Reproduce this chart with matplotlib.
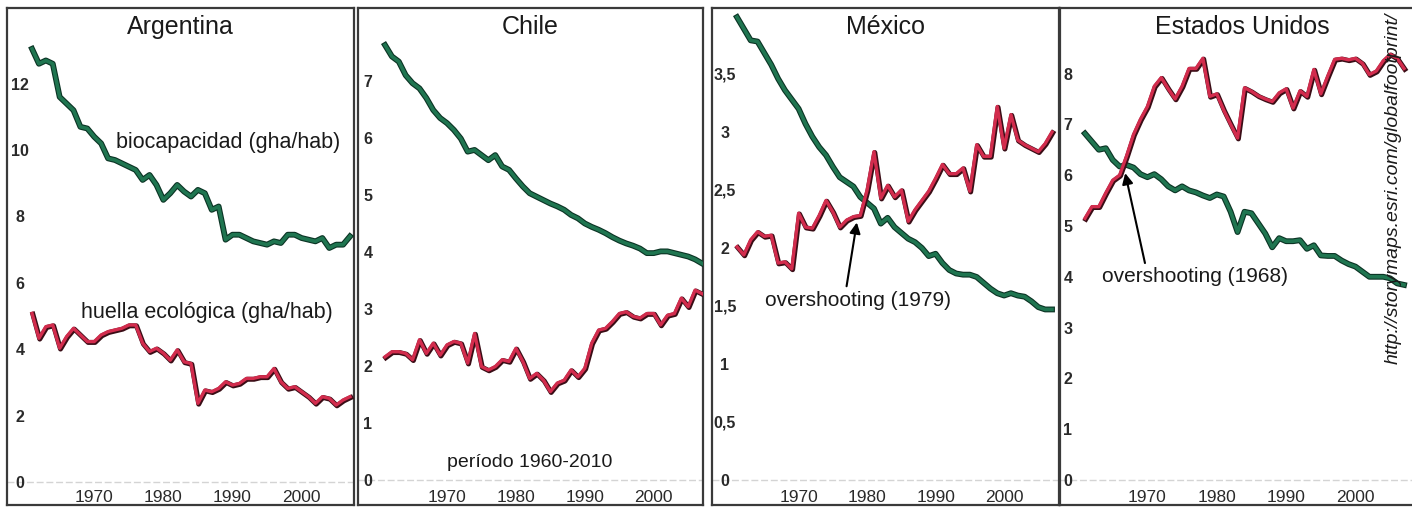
import matplotlib
matplotlib.use("Agg")
import matplotlib.pyplot as plt
import matplotlib.patheffects as pe

plt.rcParams['font.family'] = ['Liberation Sans', 'DejaVu Sans']

years = list(range(1961, 2008))

arg_bio = [13.05, 12.6, 12.7, 12.6, 11.6, 11.4, 11.2, 10.7, 10.65, 10.4, 10.2, 9.75, 9.7, 9.6, 9.5,
           9.4, 9.1, 9.25, 8.95, 8.5, 8.7, 8.95, 8.75, 8.6, 8.8, 8.7, 8.2, 8.3, 7.3, 7.45, 7.45,
           7.35, 7.25, 7.2, 7.15, 7.25, 7.2, 7.45, 7.45, 7.35, 7.3, 7.25, 7.35, 7.05, 7.15, 7.15, 7.4]
arg_foot = [5.08, 4.33, 4.68, 4.73, 4.03, 4.38, 4.63, 4.43, 4.23, 4.23, 4.43, 4.53, 4.58, 4.63, 4.73,
            4.73, 4.18, 3.93, 4.03, 3.88, 3.67, 3.98, 3.62, 3.57, 2.37, 2.77, 2.72, 2.82, 3.02, 2.92,
            2.97, 3.12, 3.12, 3.17, 3.17, 3.42, 3.02, 2.82, 2.87, 2.72, 2.57, 2.37, 2.57, 2.52, 2.32,
            2.47, 2.57]
chl_bio = [7.63, 7.43, 7.34, 7.1, 6.96, 6.87, 6.7, 6.49, 6.35, 6.26, 6.14, 5.99, 5.76, 5.79, 5.70,
           5.61, 5.70, 5.50, 5.44, 5.29, 5.15, 5.03, 4.97, 4.91, 4.85, 4.80, 4.74, 4.65, 4.59, 4.50,
           4.44, 4.39, 4.33, 4.26, 4.20, 4.15, 4.11, 4.06, 3.98, 3.98, 4.01, 4.01, 3.98, 3.95, 3.92,
           3.87, 3.80]
chl_foot = [2.16, 2.25, 2.25, 2.22, 2.11, 2.46, 2.22, 2.40, 2.19, 2.37, 2.43, 2.40, 2.05, 2.57, 1.99,
            1.93, 1.99, 2.11, 2.08, 2.31, 2.08, 1.78, 1.87, 1.75, 1.55, 1.70, 1.75, 1.93, 1.81, 1.96,
            2.40, 2.63, 2.66, 2.78, 2.92, 2.95, 2.87, 2.84, 2.92, 2.92, 2.72, 2.89, 2.92, 3.19, 3.04,
            3.33, 3.27]
mex_bio = [3.99, 3.89, 3.79, 3.78, 3.68, 3.58, 3.46, 3.36, 3.28, 3.20, 3.07, 2.96, 2.87, 2.80, 2.70,
           2.61, 2.57, 2.53, 2.44, 2.39, 2.34, 2.21, 2.26, 2.18, 2.13, 2.08, 2.05, 2.00, 1.93, 1.95,
           1.87, 1.81, 1.78, 1.77, 1.77, 1.75, 1.70, 1.65, 1.61, 1.59, 1.61, 1.59, 1.58, 1.54, 1.49,
           1.47, 1.47]
mex_foot = [2.01, 1.94, 2.07, 2.14, 2.10, 2.11, 1.87, 1.88, 1.82, 2.30, 2.18, 2.17, 2.28, 2.41, 2.31,
            2.18, 2.24, 2.27, 2.28, 2.50, 2.83, 2.43, 2.54, 2.44, 2.50, 2.23, 2.33, 2.41, 2.49, 2.60,
            2.72, 2.64, 2.64, 2.69, 2.49, 2.89, 2.79, 2.79, 3.22, 2.86, 3.15, 2.93, 2.89, 2.86, 2.83,
            2.90, 3.00]
usa_bio = [6.82, 6.66, 6.50, 6.53, 6.30, 6.17, 6.20, 6.15, 6.02, 5.96, 6.02, 5.92, 5.78, 5.70, 5.78,
           5.70, 5.66, 5.60, 5.55, 5.62, 5.58, 5.28, 4.88, 5.28, 5.25, 5.05, 4.85, 4.58, 4.76, 4.70,
           4.70, 4.72, 4.55, 4.62, 4.42, 4.41, 4.41, 4.32, 4.25, 4.20, 4.10, 4.00, 4.00, 4.00, 3.97,
           3.87, 3.84]
usa_foot = [5.15, 5.38, 5.38, 5.65, 5.90, 6.0, 6.38, 6.80, 7.10, 7.35, 7.75, 7.92, 7.7, 7.5, 7.75,
            8.1, 8.1, 8.3, 7.55, 7.6, 7.28, 7.0, 6.73, 7.72, 7.65, 7.56, 7.5, 7.45, 7.62, 7.7, 7.32,
            7.66, 7.55, 8.08, 7.6, 7.95, 8.28, 8.30, 8.27, 8.30, 8.2, 7.98, 8.05, 8.25, 8.38, 8.3, 8.1]

titles = ["Argentina", "Chile", "México", "Estados Unidos"]
x_ticks = [1970, 1980, 1990, 2000]
y_ticks = [[0, 2, 4, 6, 8, 10, 12],
           [0, 1, 2, 3, 4, 5, 6, 7],
           [0, 0.5, 1, 1.5, 2, 2.5, 3, 3.5],
           [0, 1, 2, 3, 4, 5, 6, 7, 8]]
y_labels = [["0", "2", "4", "6", "8", "10", "12"],
            ["0", "1", "2", "3", "4", "5", "6", "7"],
            ["0", "0,5", "1", "1,5", "2", "2,5", "3", "3,5"],
            ["0", "1", "2", "3", "4", "5", "6", "7", "8"]]
bio_series = [arg_bio, chl_bio, mex_bio, usa_bio]
foot_series = [arg_foot, chl_foot, mex_foot, usa_foot]

W, H = 1412, 507
fig = plt.figure(figsize=(W / 100, H / 100), dpi=100)
fig.patch.set_facecolor('white')

boxes = [(7, 354), (358, 703), (712, 1059), (1060, 1424)]
top_px, bot_px = 8, 505
xlims = [(1957.38, 2007.58), (1957.08, 2007.15), (1957.35, 2008.02), (1957.4, 2009.88)]
ylims = [(-0.693, 14.28), (-0.439, 8.28), (-0.216, 4.069), (-0.492, 9.29)]
ylab_off = [13, 10, 13, 8]

GREEN = '#1f7550'
GREEN_EDGE = '#0b3324'
RED = '#d22c4d'
RED_EDGE = '#3a0d16'

axes = []
for i in range(4):
    l, r = boxes[i]
    ax = fig.add_axes([l / W, (H - bot_px) / H, (r - l) / W, (bot_px - top_px) / H])
    axes.append(ax)
    ax.set_xlim(*xlims[i])
    ax.set_ylim(*ylims[i])
    for s in ax.spines.values():
        s.set_color('#3a3a3a')
        s.set_linewidth(1.6)
    ax.axhline(0, color='#d4d4d4', lw=1.0, ls=(0, (5, 2)), zorder=1)
    ax.plot(years, bio_series[i], color=GREEN, lw=2.6, solid_joinstyle='round', zorder=3,
            path_effects=[pe.Stroke(linewidth=4.2, foreground=GREEN_EDGE), pe.Normal()])
    ax.plot(years, foot_series[i], color=RED, lw=2.4, solid_joinstyle='round', zorder=3,
            path_effects=[pe.Stroke(linewidth=3.6, foreground=RED_EDGE, offset=(0.6, -0.6)),
                          pe.Normal()])
    ax.set_yticks(y_ticks[i], y_labels[i])
    ax.tick_params(axis='y', length=0, direction='in', pad=-ylab_off[i] / 1.389,
                   labelsize=11.5, labelcolor='#2a2a2a')
    for lbl in ax.get_yticklabels():
        lbl.set_horizontalalignment('center')
        lbl.set_fontweight('bold')
    ax.set_xticks(x_ticks, [str(v) for v in x_ticks])
    ax.tick_params(axis='x', length=0, direction='in', pad=-8 / 1.389,
                   labelsize=12.5, labelcolor='#2a2a2a')
    for lbl in ax.get_xticklabels():
        lbl.set_verticalalignment('center')
        lbl.set_family(['Liberation Sans Narrow', 'Liberation Sans'])
    ax.text(0.5 if i < 3 else (1242 - l) / (r - l), 1 - 19 / (bot_px - top_px), titles[i],
            transform=ax.transAxes, ha='center', va='center', fontsize=18, color='#1a1a1a')

axes[3].spines['right'].set_visible(False)

axes[0].text(1989.35, 10.24, "biocapacidad (gha/hab)", ha='center', va='center',
             fontsize=15.5, color='#1a1a1a')
axes[0].text(1986.3, 5.12, "huella ecológica (gha/hab)", ha='center', va='center',
             fontsize=15.5, color='#1a1a1a')
axes[1].text(1982.0, 0.31, "período 1960-2010", ha='center', va='center',
             fontsize=14, color='#1a1a1a')

arrow = dict(arrowstyle='-|>', color='black', lw=1.5, mutation_scale=16, shrinkA=0, shrinkB=0)
axes[2].annotate('', xy=(1978.5, 2.22), xytext=(1977.0, 1.67), arrowprops=arrow, zorder=5)
axes[2].text(1978.7, 1.545, "overshooting (1979)", ha='center', va='center',
             fontsize=15, color='#1a1a1a')
axes[3].annotate('', xy=(1966.8, 6.04), xytext=(1969.65, 4.27), arrowprops=arrow, zorder=5)
axes[3].text(1976.9, 4.0, "overshooting (1968)", ha='center', va='center',
             fontsize=15, color='#1a1a1a')

fig.text(1393 / W, 1 - 188 / H, "http://storymaps.esri.com/globalfootprint/", rotation=90,
         ha='center', va='center', fontsize=14, style='italic', color='#1a1a1a')

fig.savefig("out.png", dpi=100, facecolor='white')
